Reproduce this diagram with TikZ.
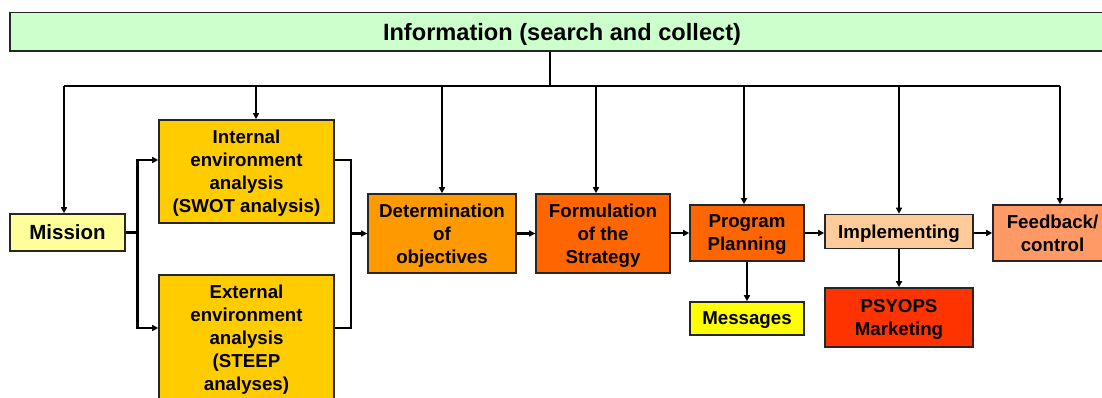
\documentclass[tikz,border=0pt]{standalone}
\usepackage{fontspec}
\setmainfont{Liberation Sans}
\usetikzlibrary{arrows.meta}
\definecolor{cGreen}{HTML}{CCFFCC}
\definecolor{cMission}{HTML}{FFFF99}
\definecolor{cAnalysis}{HTML}{FFCC00}
\definecolor{cDet}{HTML}{FF9900}
\definecolor{cForm}{HTML}{FF6600}
\definecolor{cImpl}{HTML}{FFCC99}
\definecolor{cFeed}{HTML}{FF9966}
\definecolor{cMsg}{HTML}{FFFF00}
\definecolor{cPsy}{HTML}{FF3300}
\tikzset{
  box/.style={draw=black!85, line width=1.6pt, font=\bfseries\fontsize{18.7}{23}\selectfont,
    align=center, inner sep=0pt, text=black, text depth=-2pt},
  conn/.style={line width=2.2pt, draw=black},
  arr/.style={conn, -{Triangle[length=6pt,width=6pt]}},
}
\begin{document}
\begin{tikzpicture}[x=1pt,y=-1pt]
\useasboundingbox (0,0) rectangle (1102,397);
\fill[white] (0,0) rectangle (1102,397);
\clip (0,0) rectangle (1102,397);

% nodes
\node[box, fill=cGreen, minimum width=1104pt, minimum height=38.5pt,
      font=\bfseries\fontsize{23.6}{28}\selectfont] (info) at (562,31.75) {Information (search and collect)};
\node[box, fill=cMission, minimum width=115pt, minimum height=37pt,
      font=\bfseries\fontsize{20.5}{24}\selectfont] (mission) at (67.5,232.5) {Mission};
\node[box, fill=cAnalysis, minimum width=175pt, minimum height=103pt] (internal) at (246.5,171.5)
      {Internal\\environment\\analysis\\(SWOT analysis)};
\node[box, fill=cAnalysis, minimum width=175pt, minimum height=126pt] (external) at (246.5,338)
      {External\\environment\\analysis\\(STEEP\\analyses)};
\node[box, fill=cDet, minimum width=148pt, minimum height=79pt] (det) at (442,233.5)
      {Determination\\of\\objectives};
\node[box, fill=cForm, minimum width=134pt, minimum height=79pt] (form) at (603,233.5)
      {Formulation\\of the\\Strategy};
\node[box, fill=cForm, minimum width=114pt, minimum height=56pt] (prog) at (747,233)
      {Program\\Planning};
\node[box, fill=cImpl, minimum width=148pt, minimum height=34pt] (impl) at (899,231.5)
      {Implementing};
\node[box, fill=cFeed, minimum width=119pt, minimum height=56pt] (feed) at (1052.5,233)
      {Feedback/\\control};
\node[box, fill=cMsg, minimum width=114pt, minimum height=33pt] (msg) at (747,318.5)
      {Messages};
\node[box, fill=cPsy, minimum width=148pt, minimum height=59pt] (psy) at (899,317.5)
      {PSYOPS\\Marketing};

% bus
\coordinate (bus) at (550,86);
\coordinate (busL) at (64,86);
\coordinate (busR) at (1060,86);
\coordinate (bInt) at (256,86);
\coordinate (bDet) at (442,86);
\coordinate (bForm) at (596,86);
\coordinate (bProg) at (744,86);
\coordinate (bImpl) at (899,86);

\draw[conn] (info.south -| bus) -- (bus);
\draw[conn] (busL) -- (busR);
\draw[arr] (busL) -- (busL |- mission.north);
\draw[arr] (bInt) -- (bInt |- internal.north);
\draw[arr] (bDet) -- (bDet |- det.north);
\draw[arr] (bForm) -- (bForm |- form.north);
\draw[arr] (bProg) -- (bProg |- prog.north);
\draw[arr] (bImpl) -- (bImpl |- impl.north);
\draw[arr] (busR) -- (busR |- feed.north);

% split and merge
\coordinate (split) at (137.5,232.5);
\coordinate (merge) at (351,233.5);
\draw[conn] (mission.east) -- (split);
\draw[arr] (split) |- ([yshift=11.5pt]internal.west);
\draw[arr] (split) |- ([yshift=10pt]external.west);
\draw[conn] ([yshift=11.5pt]internal.east) -| (merge);
\draw[conn] ([yshift=10pt]external.east) -| (merge);
\draw[arr] (merge) -- (merge -| det.west);

% main row
\draw[arr] (det.east) -- (form.west);
\draw[arr] (form.east |- prog.center) -- (prog.west);
\draw[arr] (prog.east) -- (prog.east -| impl.west);
\draw[arr] (impl.east |- feed.center) -- (feed.west);

% below
\draw[arr] (prog.south) -- (msg.north);
\draw[arr] (impl.south) -- (psy.north);
\end{tikzpicture}
\end{document}
